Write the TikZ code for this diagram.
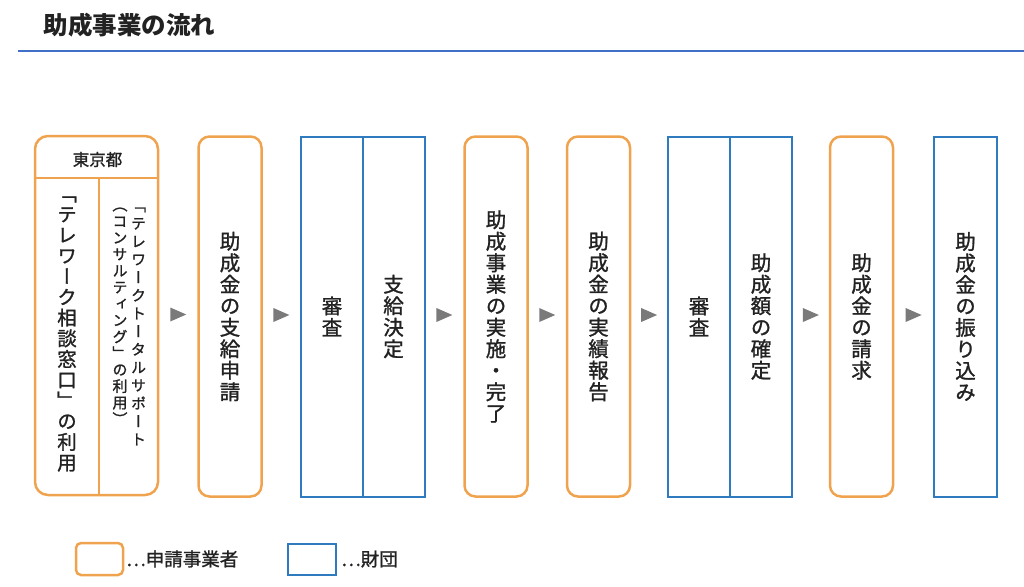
\documentclass[tikz,border=0pt]{standalone}
\usepackage{fontspec}
\setmainfont{Noto Sans CJK JP}
\newfontfamily\tatefont[RawFeature=+vert,FakeBold=1.3]{Noto Sans CJK JP}
\newfontfamily\midfont[FakeBold=1.3]{Noto Sans CJK JP}
\usetikzlibrary{calc}
\usetikzlibrary{math}
\usetikzlibrary{positioning}

\definecolor{applicantorange}{HTML}{F0A34E}
\definecolor{foundationblue}{HTML}{2E7BBF}
\definecolor{titleblue}{HTML}{3F6FC6}
\definecolor{markgray}{HTML}{7A7A7A}
\definecolor{inkgray}{HTML}{222222}

\makeatletter
\newcommand{\tate}[1]{\vbox{\@tfor\tatechar:=#1\do{\hbox to 1em{\hss\tatechar\hss}}}}
\makeatother

\tikzset{
    applicant/.style={draw=applicantorange,line width=2.5pt,rounded corners=11pt,inner sep=0pt,minimum width=63pt,minimum height=360pt},
    foundation/.style={draw=foundationblue,line width=2pt,inner sep=0pt,minimum width=62pt,minimum height=360pt},
    flowtext/.style={text=inkgray,font=\tatefont\fontsize{20.5pt}{21.5pt}\selectfont},
    nextmark/.style={fill=markgray},
    legendtext/.style={text=inkgray,anchor=west,inner sep=0pt,font=\midfont\fontsize{18.5pt}{21pt}\selectfont},
}

\begin{document}
\begin{tikzpicture}[x=1pt,y=-1pt]
    \tikzmath{  \ymid = 316.5 ;
                }
    \useasboundingbox (0,0) rectangle (1024,586);

    \node[anchor=west,text=inkgray,font=\bfseries\fontsize{24.5pt}{27pt}\selectfont] (title) at (40,25) {助成事業の流れ};
    \coordinate (rulestart) at (18,51);
    \coordinate (ruleend) at (1024,51);
    \draw[titleblue,line width=2pt] (rulestart) -- (ruleend);

    \node[applicant,minimum width=123pt,minimum height=359pt,rounded corners=13pt] (tokyo) at (96.5,315.5) {};
    \node[text=inkgray,font=\midfont\fontsize{16.5pt}{18pt}\selectfont] (tokyohead) at (97.5,159.5) {東京都};
    \node[text=inkgray,font=\tatefont\fontsize{19.5pt}{20.7pt}\selectfont] (madoguchi) at (67,334) {\tate{「テレワーク相談窓口」の利用}};
    \node[anchor=north,text=inkgray,font=\tatefont\fontsize{15pt}{18pt}\selectfont] (support) at (138.5,204) {\tate{「テレワークトータルサポート}};
    \node[anchor=north,text=inkgray,font=\tatefont\fontsize{15pt}{16.5pt}\selectfont] (consult) at (120,204) {\tate{（コンサルティング」の利用）}};
    \draw[applicantorange,line width=2.5pt] ([yshift=-43pt]tokyo.north west) -- ([yshift=-43pt]tokyo.north east);
    \draw[applicantorange,line width=2.5pt] ([xshift=2.5pt,yshift=-43pt]tokyo.north) -- ([xshift=2.5pt]tokyo.south);

    \node[applicant,flowtext] (apply) at (230,\ymid) {\tate{助成金の支給申請}};
    \node[foundation,flowtext] (review1) at (332,\ymid) {\tate{審査}};
    \node[foundation,flowtext] (decide) at (393.5,\ymid) {\tate{支給決定}};
    \node[applicant,flowtext] (implement) at (496,\ymid) {\tate{助成事業の実施・完了}};
    \node[applicant,flowtext] (report) at (598.5,\ymid) {\tate{助成金の実績報告}};
    \node[foundation,flowtext] (review2) at (699,\ymid) {\tate{審査}};
    \node[foundation,flowtext] (confirm) at (761,\ymid) {\tate{助成額の確定}};
    \node[applicant,flowtext] (claim) at (861.5,\ymid) {\tate{助成金の請求}};
    \node[foundation,flowtext,minimum width=63pt] (transfer) at (965.5,\ymid) {\tate{助成金の振り込み}};

    \fill[nextmark] ($(tokyo.east)!0.5!(apply.west)$) ++(-8,-8.5) -- ++(16,7) -- ++(-16,7) -- cycle;
    \fill[nextmark] ($(apply.east)!0.5!(review1.west)$) ++(-8,-8.5) -- ++(16,7) -- ++(-16,7) -- cycle;
    \fill[nextmark] ($(decide.east)!0.5!(implement.west)$) ++(-8,-8.5) -- ++(16,7) -- ++(-16,7) -- cycle;
    \fill[nextmark] ($(implement.east)!0.5!(report.west)$) ++(-8,-8.5) -- ++(16,7) -- ++(-16,7) -- cycle;
    \fill[nextmark] ($(report.east)!0.5!(review2.west)$) ++(-8,-8.5) -- ++(16,7) -- ++(-16,7) -- cycle;
    \fill[nextmark] ($(confirm.east)!0.5!(claim.west)$) ++(-8,-8.5) -- ++(16,7) -- ++(-16,7) -- cycle;
    \fill[nextmark] ($(claim.east)!0.5!(transfer.west)$) ++(-8,-8.5) -- ++(16,7) -- ++(-16,7) -- cycle;

    \node[applicant,minimum width=47pt,minimum height=32pt,rounded corners=5pt] (keyapplicant) at (99.5,559) {};
    \node[legendtext] (keyapplicanttext) at (126,559) {…申請事業者};
    \node[foundation,minimum width=48pt,minimum height=31pt] (keyfoundation) at (312,559.5) {};
    \node[legendtext] (keyfoundationtext) at (341,559) {…財団};
\end{tikzpicture}
\end{document}
